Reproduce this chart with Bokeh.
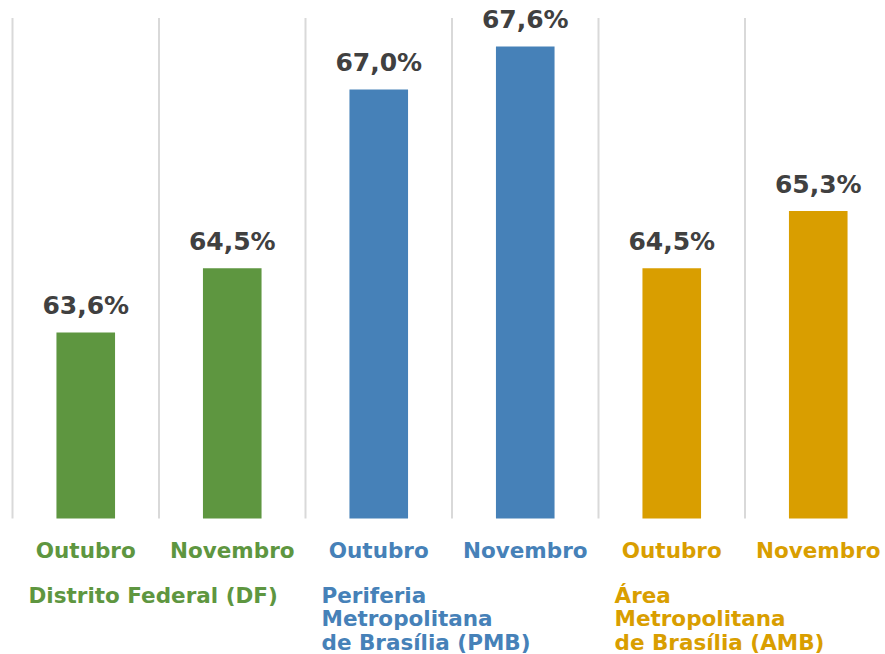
from bokeh.plotting import figure
from bokeh.models import Range1d, ColumnDataSource
from bokeh.core.properties import value
from bokeh.embed import file_html
from bokeh.resources import INLINE

# ---- data ----
months = ["Outubro", "Novembro", "Outubro", "Novembro", "Outubro", "Novembro"]
values = [63.6, 64.5, 67.0, 67.6, 64.5, 65.3]
groups = ["Distrito Federal (DF)",
          "Periferia\nMetropolitana\nde Brasília (PMB)",
          "Área\nMetropolitana\nde Brasília (AMB)"]
group_colors = ["#5E9640", "#4681B8", "#D99E00"]
y_min, y_max = 61, 68

FONT = value("DejaVu Sans")
n = len(values)
xs = [i + 0.5 for i in range(n)]
bar_colors = [group_colors[i // 2] for i in range(n)]
val_labels = [f"{v:.1f}".replace(".", ",") + "%" for v in values]

src = ColumnDataSource(dict(x=xs, top=values, color=bar_colors,
                            month=months, lab=val_labels))

# pixel geometry: 146.5 px per category, 71.5 px per unit
cat_px, unit_px = 146.5, 71.5
W, H = 885, 654
x0 = -12 / cat_px
x1 = x0 + W / cat_px
y1 = y_min + 518 / unit_px
y0 = y1 - H / unit_px

p = figure(width=W, height=H, output_backend="svg", toolbar_location=None,
           x_range=Range1d(x0, x1), y_range=Range1d(y0, y1),
           x_axis_location=None, y_axis_location=None, min_border=0)
p.outline_line_color = None
p.grid.visible = False
p.background_fill_color = "white"
p.border_fill_color = "white"

# vertical separators
bx = list(range(n + 1))
p.segment(x0=bx, y0=[y_min] * len(bx), x1=bx, y1=[y_max] * len(bx),
          line_color="#D9D9D9", line_width=2)

p.vbar(x="x", top="top", bottom=y_min, width=0.40, fill_color="color",
       line_color=None, source=src)

p.text(x="x", y="top", text="lab", source=src, text_align="center",
       text_baseline="alphabetic", y_offset=-27, text_font=FONT,
       text_font_style="bold", text_font_size="25px", text_color="#404040")

p.text(x="x", y=y_min, text="month", source=src, text_align="center",
       text_baseline="alphabetic", y_offset=32, text_font=FONT,
       text_font_style="bold", text_font_size="21.5px", text_color="color")

gsrc = ColumnDataSource(dict(x=[2 * i for i in range(len(groups))],
                             y=[y_min] * len(groups), t=groups,
                             c=group_colors))
p.text(x="x", y="y", text="t", source=gsrc, text_align="left",
       text_baseline="top", x_offset=16, y_offset=64, text_font=FONT,
       text_font_style="bold", text_font_size="21.5px", text_color="c",
       text_line_height=0.94)

open("out.html", "w").write(file_html(p, INLINE))
